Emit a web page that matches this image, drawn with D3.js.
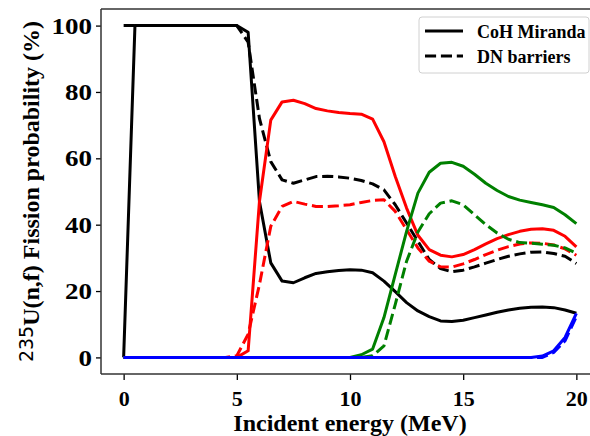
<!DOCTYPE html>
<html><head><meta charset="utf-8">
<script src="https://cdn.jsdelivr.net/npm/d3@7"></script>
<style>body{margin:0;background:#fff}svg{display:block}</style>
</head><body>
<svg id="c" width="590" height="436"></svg>
<script>
// Incident neutron energy grid (MeV)
const energy = [0,0.5,1,1.5,2,2.5,3,3.5,4,4.5,5,5.5,6,6.5,7,7.5,8,8.5,9,9.5,10,10.5,11,11.5,12,12.5,13,13.5,14,14.5,15,15.5,16,16.5,17,17.5,18,18.5,19,19.5,20];

// CoH Miranda (solid)
const cohFirst  = [0,100,100,100,100,100,100,100,100,100,100,98,47,28.5,23,22.5,24,25.3,25.8,26.2,26.4,26.3,25.5,23,19.8,16.5,14,12.3,11,10.8,11.2,12,12.8,13.6,14.3,14.8,15.1,15.2,15,14.3,13.3];
const cohSecond = [0,0,0,0,0,0,0,0,0,0,0,2,47,71.5,77,77.5,76.5,75,74.3,73.8,73.5,73.3,71.8,65,54.5,45,36.8,32.5,30.8,30.3,31,32.5,34.2,35.8,37,38,38.6,38.8,38.3,36.5,33.3];
const cohThird  = [0,0,0,0,0,0,0,0,0,0,0,0,0,0,0,0,0,0,0,0,0,0.8,2.5,12,25,38,49.5,55.8,58.5,58.8,57.6,55.2,52.5,50.3,48.5,47.4,46.7,46,45.2,43,40.3];
const cohFourth = [0,0,0,0,0,0,0,0,0,0,0,0,0,0,0,0,0,0,0,0,0,0,0,0,0,0,0,0,0,0,0,0,0,0,0,0,0,0.4,2,6,13.3];

// DN barriers (dashed)
const dnFirst  = [100,100,100,100,100,100,100,100,100,100,100,95,72,59,53.5,52.5,53.5,54.5,54.6,54.4,54,53.3,52.3,50.5,46,40.5,35,29.5,26.8,25.8,26.3,27.3,28.4,29.5,30.5,31.2,31.7,31.8,31.3,30.5,28.3];
const dnSecond = [0,0,0,0,0,0,0,0,0,0,0.5,7,22,39.5,45.5,47,46.2,45.5,45.5,45.7,46,46.7,47.3,47.5,44,38.5,33,29,27.3,27.2,28.2,29.5,31,32.3,33.4,34.2,34.5,34.4,33.9,32.7,30.8];
const dnThird  = [0,0,0,0,0,0,0,0,0,0,0,0,0,0,0,0,0,0,0,0,0,0,0.5,3.5,16,29,37.8,43.3,46.5,47.2,46,43,40,37.5,35.6,34.6,34.4,34.1,33.8,33,31.4];
const dnFourth = [0,0,0,0,0,0,0,0,0,0,0,0,0,0,0,0,0,0,0,0,0,0,0,0,0,0,0,0,0,0,0,0,0,0,0,0,0,0,1.5,5,12.3];

const xTicks = [0,5,10,15,20];
const yTicks = [0,20,40,60,80,100];
const legendLabels = ["CoH Miranda","DN barriers"];

const serif = "'Liberation Serif','Times New Roman',serif";
const svg = d3.select("#c");
const L = 101, R = 599, T = 9, B = 374;
const x = d3.scaleLinear().domain([-1,21]).range([L,R]);
const y = d3.scaleLinear().domain([-5,105]).range([B,T]);

const series = [
  {v: cohFirst,  c: "#000000", dash: null},
  {v: dnFirst,   c: "#000000", dash: "11.1,4.8"},
  {v: cohSecond, c: "#ff0000", dash: null},
  {v: dnSecond,  c: "#ff0000", dash: "11.1,4.8"},
  {v: cohThird,  c: "#008000", dash: null},
  {v: dnThird,   c: "#008000", dash: "11.1,4.8"},
  {v: cohFourth, c: "#0000ff", dash: null},
  {v: dnFourth,  c: "#0000ff", dash: "11.1,4.8"}
];

const line = d3.line().x((d,i)=>x(energy[i])).y(d=>y(d));
svg.append("g").selectAll("path").data(series).join("path")
  .attr("d", d=>line(d.v))
  .attr("fill","none")
  .attr("stroke", d=>d.c)
  .attr("stroke-width", 3)
  .attr("stroke-linejoin","round")
  .attr("stroke-dasharray", d=>d.dash);

// axes
const gx = svg.append("g").attr("transform",`translate(0,${B})`)
  .call(d3.axisBottom(x).tickValues(xTicks).tickSize(6).tickSizeOuter(0));
gx.select(".domain").remove();
gx.selectAll("line").attr("stroke","#000").attr("stroke-width",1.3);
gx.selectAll("text").attr("y",32).attr("dy",null)
  .style("font-family",serif).style("font-weight","bold").style("font-size","22px").attr("fill","#000");

const gy = svg.append("g").attr("transform",`translate(${L},0)`)
  .call(d3.axisLeft(y).tickValues(yTicks).tickSize(5).tickSizeOuter(0));
gy.select(".domain").remove();
gy.selectAll("line").attr("stroke","#000").attr("stroke-width",1.3);
gy.selectAll("text").attr("x",-9).attr("dy","0.33em")
  .style("font-family",serif).style("font-weight","bold").style("font-size","23px").attr("fill","#000")
  .attr("textLength", d=>String(d).length*13.5).attr("lengthAdjust","spacingAndGlyphs");

// spines
const sp = svg.append("g").attr("stroke","#333").attr("stroke-width",1.5).attr("fill","none");
sp.append("line").attr("x1",L).attr("x2",L).attr("y1",T).attr("y2",B);
sp.append("line").attr("x1",L).attr("x2",R).attr("y1",B).attr("y2",B);
sp.append("line").attr("x1",L).attr("x2",R).attr("y1",T).attr("y2",T);
sp.append("line").attr("x1",R).attr("x2",R).attr("y1",T).attr("y2",B);

// axis titles
svg.append("text").attr("x",(L+R)/2).attr("y",431).attr("text-anchor","middle")
  .style("font-family",serif).style("font-weight","bold").style("font-size","24px")
  .text("Incident energy (MeV)");

const yt = svg.append("text").attr("transform",`translate(39,${(T+B)/2}) rotate(-90)`)
  .attr("text-anchor","middle")
  .style("font-family",serif).style("font-weight","bold").style("font-size","24px");
yt.append("tspan").attr("dy",-6).style("font-family","'DejaVu Sans',sans-serif")
  .style("font-weight","normal").style("font-size","19px").text("235");
yt.append("tspan").attr("dy",6).text("U(n,f) Fission probability (%)");

// legend
const lg = svg.append("g");
lg.append("rect").attr("x",419).attr("y",17).attr("width",170).attr("height",56).attr("rx",3)
  .attr("fill","#fff").attr("fill-opacity",0.8).attr("stroke","#d0d0d0").attr("stroke-width",1);
const lgItems = [{dash:null, yy:31}, {dash:"11.1,4.8", yy:56}];
lg.selectAll("line.h").data(legendLabels).join("line").attr("class","h")
  .attr("x1",425).attr("x2",463)
  .attr("y1",(d,i)=>lgItems[i].yy).attr("y2",(d,i)=>lgItems[i].yy)
  .attr("stroke","#000").attr("stroke-width",3)
  .attr("stroke-dasharray",(d,i)=>lgItems[i].dash);
lg.selectAll("text").data(legendLabels).join("text")
  .attr("x",477).attr("y",(d,i)=>lgItems[i].yy+7)
  .style("font-family",serif).style("font-weight","bold").style("font-size","18px")
  .text(d=>d);
</script>
</body></html>
